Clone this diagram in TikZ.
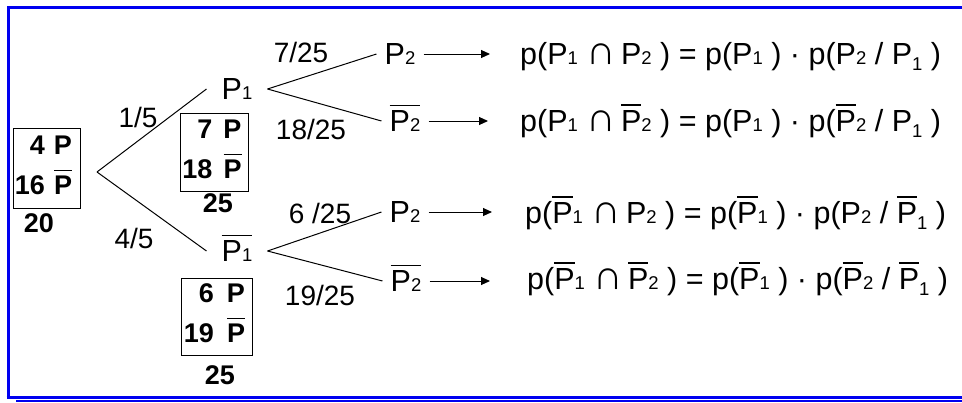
\documentclass[tikz,border=0pt]{standalone}
\usepackage{fontspec}
\setmainfont{Liberation Sans}
\usetikzlibrary{arrows.meta}
\definecolor{frameblue}{RGB}{0,0,240}
\newsavebox\obbox
\newcommand\ob[1]{\sbox\obbox{#1}\leavevmode\rlap{\raisebox{\dimexpr\ht\obbox+4.5pt\relax}[0pt][0pt]{\rule{\wd\obbox}{1.4pt}}}\usebox\obbox}
\newcommand\sbs[1]{{\fontsize{18.5}{20}\selectfont #1}}
\newcommand\sbl[1]{\raisebox{-6pt}{\fontsize{18.5}{20}\selectfont #1}}
\newcommand\capsym{\scalebox{1.35}{∩}}
\begin{document}
\begin{tikzpicture}[x=1pt,y=-1pt,
  every node/.style={font=\fontsize{30.5}{34}\selectfont, inner sep=0pt},
  frac/.style={font=\fontsize{28}{32}\selectfont},
  lbl/.style={inner xsep=15pt},
  lbltwo/.style={inner xsep=8pt},
  ln/.style={line width=1pt, black},
  arr/.style={line width=1pt, black, -{Triangle[length=9pt,width=8pt]}},
  cbox/.style={draw, line width=1pt, font=\fontsize{27}{30}\selectfont\bfseries, inner sep=0pt},
  bnum/.style={font=\fontsize{27}{30}\selectfont\bfseries}
]
\useasboundingbox (0,0) rectangle (962,402);
% frame
\draw[frameblue, line width=3pt] (8,398) -- (8,7) -- (962,7);
\draw[frameblue, line width=3pt] (6.5,397) -- (962,397);
\draw[frameblue, line width=2pt] (16,401) -- (962,401);

% boxes
\node[cbox, minimum width=67pt, minimum height=80pt] (B0) at (46.5,168)
  {\begin{tabular}{@{}r@{\hspace{9pt}}r@{\hspace{6pt}}}4 & P\\[10pt] 16 & \ob{P}\end{tabular}};
\node[bnum] (n0) at (39,223) {20};
\node[cbox, minimum width=68pt, minimum height=78pt] (B1) at (214,152)
  {\begin{tabular}{@{}r@{\hspace{11pt}}r@{\hspace{4pt}}}7 & P\\[10pt] 18 & \ob{P}\end{tabular}};
\node[bnum] (n1) at (218,203) {25};
\node[cbox, minimum width=71pt, minimum height=77pt] (B2) at (216.5,316.5)
  {\begin{tabular}{@{}r@{\hspace{13pt}}r@{\hspace{4pt}}}6 & P\\[10pt] 19 & \ob{P}\end{tabular}};
\node[bnum] (n2) at (220,375) {25};

% tree
\coordinate (root) at (97,172);
\node[lbl] (P1) at (237,89) {P\sbs{1}};
\node[lbl] (Q1) at (237,251) {\ob{P\sbs{1}}};
\node[lbltwo] (A) at (400,54) {P\sbs{2}};
\node[lbltwo] (B) at (405,121) {\ob{P\sbs{2}}};
\node[lbltwo] (C) at (405,212) {P\sbs{2}};
\node[lbltwo] (D) at (406,281) {\ob{P\sbs{2}}};
\draw[ln] (root) -- (P1.west);
\draw[ln] (root) -- (Q1.west);
\draw[ln] (P1.east) -- (A.west);
\draw[ln] (P1.east) -- (B.west);
\draw[ln] (Q1.east) -- (C.west);
\draw[ln] (Q1.east) -- (D.west);

% probabilities
\node[frac] (f15) at (138,117) {1/5};
\node[frac] (f45) at (134,238) {4/5};
\node[frac] (f725) at (301,52) {7/25};
\node[frac] (f1825) at (311,129) {18/25};
\node[frac] (f625) at (320,213) {6 /25};
\node[frac] (f1925) at (320,295) {19/25};

% formulas
\node[anchor=base west] (F1) at (520,64)
  {p(P\sbs{1} \capsym\,P\sbs{2} ) = p(P\sbs{1} ) · p(P\sbs{2} / P\sbl{1} )};
\node[anchor=base west] (F2) at (520,131)
  {p(P\sbs{1} \capsym\,\ob{P}\sbs{2} ) = p(P\sbs{1} ) · p(\ob{P}\sbs{2} / P\sbl{1} )};
\node[anchor=base west] (F3) at (525,223)
  {p(\ob{P}\sbs{1} \capsym\,P\sbs{2} ) = p(\ob{P}\sbs{1} ) · p(P\sbs{2} / \ob{P}\sbl{1} )};
\node[anchor=base west] (F4) at (527,289)
  {p(\ob{P}\sbs{1} \capsym\,\ob{P}\sbs{2} ) = p(\ob{P}\sbs{1} ) · p(\ob{P}\sbs{2} / \ob{P}\sbl{1} )};

\draw[arr, shorten >=30pt] (A.east) -- (A.east -| F1.west);
\draw[arr, shorten >=32pt] (B.east) -- (B.east -| F2.west);
\draw[arr, shorten >=33pt] (C.east) -- (C.east -| F3.west);
\draw[arr, shorten >=37pt] (D.east) -- (D.east -| F4.west);
\end{tikzpicture}
\end{document}
